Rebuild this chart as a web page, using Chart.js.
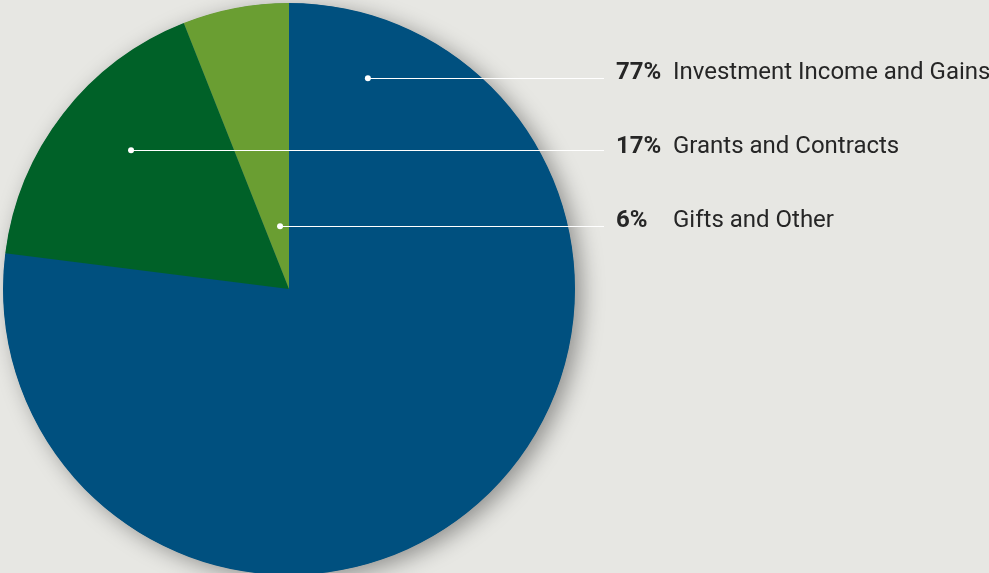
<!DOCTYPE html>
<html>
<head>
<meta charset="utf-8">
<script src="https://cdn.jsdelivr.net/npm/chart.js@4"></script>
<style>
  html, body { margin: 0; padding: 0; background: #e7e7e3; overflow: hidden; }
  #wrap { position: absolute; left: 0; top: 0; width: 989px; height: 578px; }
</style>
</head>
<body>
<div id="wrap"><canvas id="revenueChart"></canvas></div>
<script>
const categories = ['Investment Income and Gains', 'Grants and Contracts', 'Gifts and Other'];
const shares = [77, 17, 6];
const sliceColors = ['#00507f', '#006128', '#6a9e32'];

// where each leader dot sits inside its slice: fraction along the slice angle, fraction of radius
const dotAnchors = [
    { along: 0.074, radius: 0.787 },
    { along: 0.557, radius: 0.735 },
    { along: 0.625, radius: 0.222 }
];
const labelBaselines = [79, 153, 227];

// Soft drop shadow behind the whole pie
const pieShadow = {
    id: 'pieShadow',
    beforeDatasetsDraw(chart) {
        const arc = chart.getDatasetMeta(0).data[0];
        const ctx = chart.ctx;
        ctx.save();
        ctx.shadowColor = 'rgba(0,0,0,0.38)';
        ctx.shadowBlur = 22;
        ctx.shadowOffsetX = 7;
        ctx.shadowOffsetY = 5;
        ctx.fillStyle = sliceColors[0];
        ctx.beginPath();
        ctx.arc(arc.x, arc.y, arc.outerRadius - 0.5, 0, Math.PI * 2);
        ctx.fill();
        ctx.restore();
    }
};

// Leader lines with dots and the labels on the right
const leaderLabels = {
    id: 'leaderLabels',
    afterDatasetsDraw(chart) {
        const ctx = chart.ctx;
        const arcs = chart.getDatasetMeta(0).data;
        ctx.save();
        arcs.forEach((arc, i) => {
            const a = dotAnchors[i];
            const angle = arc.startAngle + (arc.endAngle - arc.startAngle) * a.along;
            const r = arc.outerRadius * a.radius;
            const dx = arc.x + Math.cos(angle) * r;
            const dy = arc.y + Math.sin(angle) * r;

            ctx.strokeStyle = '#ffffff';
            ctx.lineWidth = 1;
            ctx.beginPath();
            ctx.moveTo(dx, Math.round(dy) + 0.5);
            ctx.lineTo(604, Math.round(dy) + 0.5);
            ctx.stroke();

            ctx.fillStyle = '#ffffff';
            ctx.beginPath();
            ctx.arc(dx, dy, 3, 0, Math.PI * 2);
            ctx.fill();

            ctx.fillStyle = '#262626';
            ctx.textBaseline = 'alphabetic';
            ctx.font = 'bold 24px Roboto';
            ctx.fillText(shares[i] + '%', 616, labelBaselines[i]);
            ctx.font = '24px Roboto';
            ctx.fillText(categories[i], 673, labelBaselines[i]);
        });
        ctx.restore();
    }
};

document.addEventListener('DOMContentLoaded', () => {
    const ctx = document.getElementById('revenueChart').getContext('2d');
    new Chart(ctx, {
        type: 'pie',
        data: {
            labels: categories,
            datasets: [{
                data: shares,
                backgroundColor: sliceColors,
                borderWidth: 0
            }]
        },
        options: {
            responsive: true,
            maintainAspectRatio: false,
            animation: false,
            layout: { padding: { left: 3, right: 414, top: 3, bottom: 3 } },
            plugins: {
                legend: { display: false },
                tooltip: { enabled: false }
            }
        },
        plugins: [pieShadow, leaderLabels]
    });
});
</script>
</body>
</html>
